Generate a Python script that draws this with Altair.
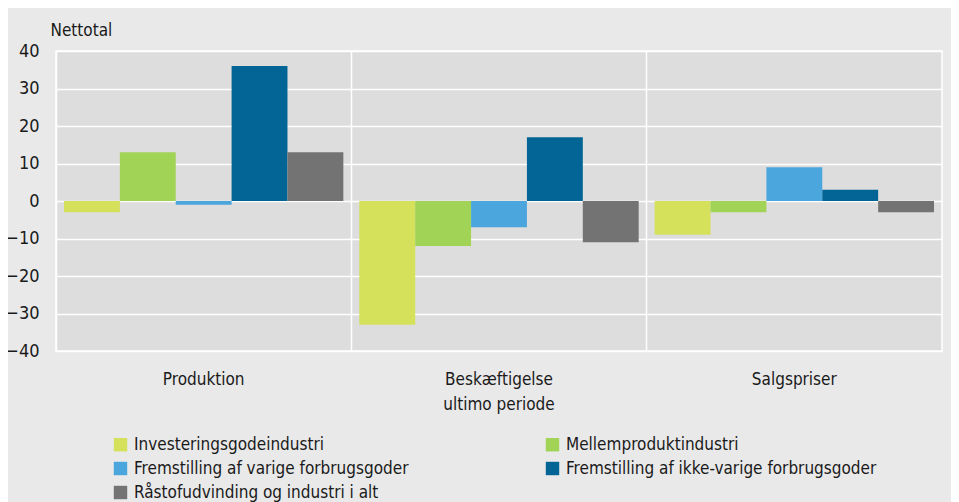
import altair as alt
import pandas as pd

categories = ["Produktion", "Beskæftigelse ultimo periode", "Salgspriser"]
series = [
    "Investeringsgodeindustri",
    "Mellemproduktindustri",
    "Fremstilling af varige forbrugsgoder",
    "Fremstilling af ikke-varige forbrugsgoder",
    "Råstofudvinding og industri i alt",
]
colors = ["#D5E05B", "#A1D357", "#4BA6DD", "#026595", "#737373"]
v_invest = [-3, -33, -9]
v_mellem = [13, -12, -3]
v_varige = [-1, -7, 9]
v_ikkevarige = [36, 17, 3]
v_raastof = [13, -11, -3]
y_ticks = [-40, -30, -20, -10, 0, 10, 20, 30, 40]

# legend fills column-wise: reorder so rows read as in the reference
legend_order = [series[0], series[2], series[4], series[1], series[3]]
legend_colors = [colors[series.index(s)] for s in legend_order]

all_vals = [v_invest, v_mellem, v_varige, v_ikkevarige, v_raastof]
rows = []
for s, vals in zip(series, all_vals):
    for c, v in zip(categories, vals):
        rows.append({"kategori": c, "serie": s, "værdi": v})
df = pd.DataFrame(rows)

FONT = "Liberation Sans Narrow, DejaVu Sans Condensed, Roboto Condensed, Roboto, sans-serif"

chart = (
    alt.Chart(df)
    .mark_bar()
    .encode(
        x=alt.X(
            "kategori:N",
            sort=categories,
            scale=alt.Scale(paddingInner=0, paddingOuter=0),
            axis=alt.Axis(
                title=None,
                labelAngle=0,
                domain=False,
                ticks=False,
                grid=True,
                bandPosition=0,
                gridColor="white",
                gridWidth=1.5,
                labelFont=FONT,
                labelFontSize=17,
                labelColor="#1a1a1a",
                labelPadding=20,
                labelLineHeight=25,
                labelExpr="datum.label == 'Beskæftigelse ultimo periode' ? ['Beskæftigelse', 'ultimo periode'] : datum.label",
            ),
        ),
        xOffset=alt.XOffset(
            "serie:N",
            sort=series,
            scale=alt.Scale(paddingInner=0, paddingOuter=0.143),
        ),
        y=alt.Y(
            "værdi:Q",
            scale=alt.Scale(domain=[-40, 40], nice=False),
            axis=alt.Axis(
                values=y_ticks,
                title="Nettotal",
                titleAngle=0,
                titleAlign="left",
                titleBaseline="middle",
                titleX=-6,
                titleY=-21,
                titleFont=FONT,
                titleFontSize=17,
                titleFontWeight="normal",
                titleColor="#1a1a1a",
                domain=False,
                ticks=False,
                grid=True,
                gridColor="white",
                gridWidth=1.5,
                labelFont=FONT,
                labelFontSize=18,
                labelColor="#1a1a1a",
                labelPadding=17,
            ),
        ),
        color=alt.Color(
            "serie:N",
            scale=alt.Scale(domain=legend_order, range=legend_colors),
            legend=alt.Legend(
                title=None,
                orient="none",
                legendX=56,
                legendY=385,
                columns=2,
                columnPadding=135,
                rowPadding=6,
                symbolType="square",
                symbolSize=180,
                symbolStrokeWidth=0,
                symbolOpacity=1,
                labelFont=FONT,
                labelFontSize=17,
                labelColor="#1a1a1a",
                labelOffset=5,
                labelLimit=400,
                padding=0,
            ),
        ),
    )
    .properties(
        width=886,
        height=300,
        autosize=alt.AutoSizeParams(type="none"),
        padding={"left": 48, "top": 43, "right": 9, "bottom": 151},
        background="#E9E9E9",
    )
    .configure_view(fill="#DDDDDD", stroke="white", strokeWidth=1.5)
)

chart.save("out.html", embed_options={"renderer": "svg", "actions": False})
